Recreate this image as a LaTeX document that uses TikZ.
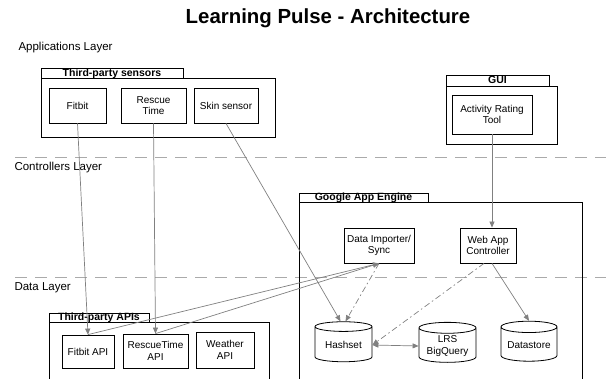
\documentclass[tikz,border=0pt]{standalone}
\usepackage{fontspec}
\setmainfont{Liberation Sans}
\usepackage{tikz}
\usetikzlibrary{shapes.geometric}
\usetikzlibrary{arrows.meta}

\definecolor{linegray}{RGB}{128,128,128}
\definecolor{layergray}{RGB}{170,170,170}

\begin{document}
\begin{tikzpicture}[x=1pt,y=-1pt,
  box/.style={draw=black,line width=0.8pt,fill=white,align=center,inner sep=1pt,
    minimum height=35,font=\fontsize{10}{11.5}\selectfont},
  tab/.style={draw=black,line width=0.8pt,fill=white,inner sep=0pt,minimum height=10,
    text height=7.5pt,text depth=0.5pt,font=\fontsize{10.5}{11}\selectfont\bfseries},
  store/.style={cylinder,shape border rotate=90,aspect=0.25,draw=black,line width=0.8pt,
    fill=white,align=center,inner sep=1pt,minimum width=57,minimum height=40,
    font=\fontsize{10}{11.5}\selectfont},
  layer/.style={anchor=west,font=\fontsize{11.5}{13}\selectfont},
  layerline/.style={draw=layergray,line width=0.8pt,dash pattern=on 12pt off 8pt},
  conn/.style={draw=linegray,line width=0.7pt,-{Triangle[length=6pt,width=5pt]}},
  dashconn/.style={conn,dash pattern=on 6pt off 3pt on 1.5pt off 3pt}]

      \useasboundingbox (0,0) rectangle (606,379);

      \node (title) at (328,18) [font=\fontsize{20.4}{22}\selectfont\bfseries]{Learning Pulse - Architecture};

      %layers
      \node (applayer) at (15,48) [layer]{Applications Layer};
      \draw[layerline] (15,157) -- (606,157);
      \node (ctrllayer) at (11,168) [layer]{Controllers Layer};
      \draw[layerline] (15,277) -- (606,277);
      \node (datalayer) at (11,288) [layer]{Data Layer};

      %third-party sensors
      \draw[line width=0.8pt] (41,78) rectangle (275,137);
      \node (sensorstab) at (112,73) [tab,minimum width=142]{Third-party sensors};
      \node (fitbit) at (77.5,105.5) [box,minimum width=57]{Fitbit};
      \node (rescue) at (153.5,105.5) [box,minimum width=65]{Rescue\\Time};
      \node (skin) at (226,105.5) [box,minimum width=64]{Skin sensor};

      %gui
      \draw[line width=0.8pt] (446,86) rectangle (557,144);
      \node (guitab) at (497.5,80.5) [tab,minimum width=103,minimum height=11]{GUI};
      \node (activity) at (492,114.5) [box,minimum width=80,minimum height=39]{Activity Rating\\Tool};

      %google app engine
      \draw[line width=0.8pt] (299,379) |- (582,202) -- (582,379);
      \node (gaetab) at (363.5,197.5) [tab,minimum width=129,minimum height=9]{Google App Engine};
      \node (importer) at (379,245.5) [box,minimum width=70]{Data Importer/\\Sync};
      \node (webapp) at (488,245.5) [box,minimum width=56]{Web App\\Controller};
      \node (hashset) at (343.5,345) [store]{Hashset};
      \node (lrs) at (447.5,346) [store]{LRS\\BigQuery};
      \node (datastore) at (529,345) [store,minimum width=56]{Datastore};

      %third-party apis
      \draw[line width=0.8pt] (49,379) |- (269,322) -- (269,379);
      \node (apistab) at (99,317.5) [tab,minimum width=100,minimum height=9]{Third-party APIs};
      \node (fitbitapi) at (88,351.5) [box,minimum width=52,minimum height=33]{Fitbit API};
      \node (rescueapi) at (155.5,351) [box,minimum width=65,minimum height=34]{RescueTime\\API};
      \node (weatherapi) at (225,350) [box,minimum width=58,minimum height=36]{Weather\\API};

      %connectors
      \draw[conn] (fitbit.south) -- (fitbitapi.north);
      \draw[conn] (rescue.south) -- (rescueapi.north);
      \draw[conn] (skin.south) -- ([xshift=-3pt]hashset.north);
      \draw[conn] (activity.south) -- (activity.south |- webapp.north);
      \draw[conn] (fitbitapi.north) -- (importer.south);
      \draw[conn] (rescueapi.north) -- (importer.south);
      \draw[dashconn] (importer.south) -- ([xshift=2pt]hashset.north);
      \draw[dashconn] ([xshift=-4pt]webapp.south) -- (hashset.east);
      \draw[conn] ([xshift=4pt]webapp.south) -- (datastore.north);
      \draw[conn,{Triangle[length=6pt,width=5pt]}-{Triangle[length=6pt,width=5pt]}] (hashset.east) -- (lrs.west);

\end{tikzpicture}
\end{document}
